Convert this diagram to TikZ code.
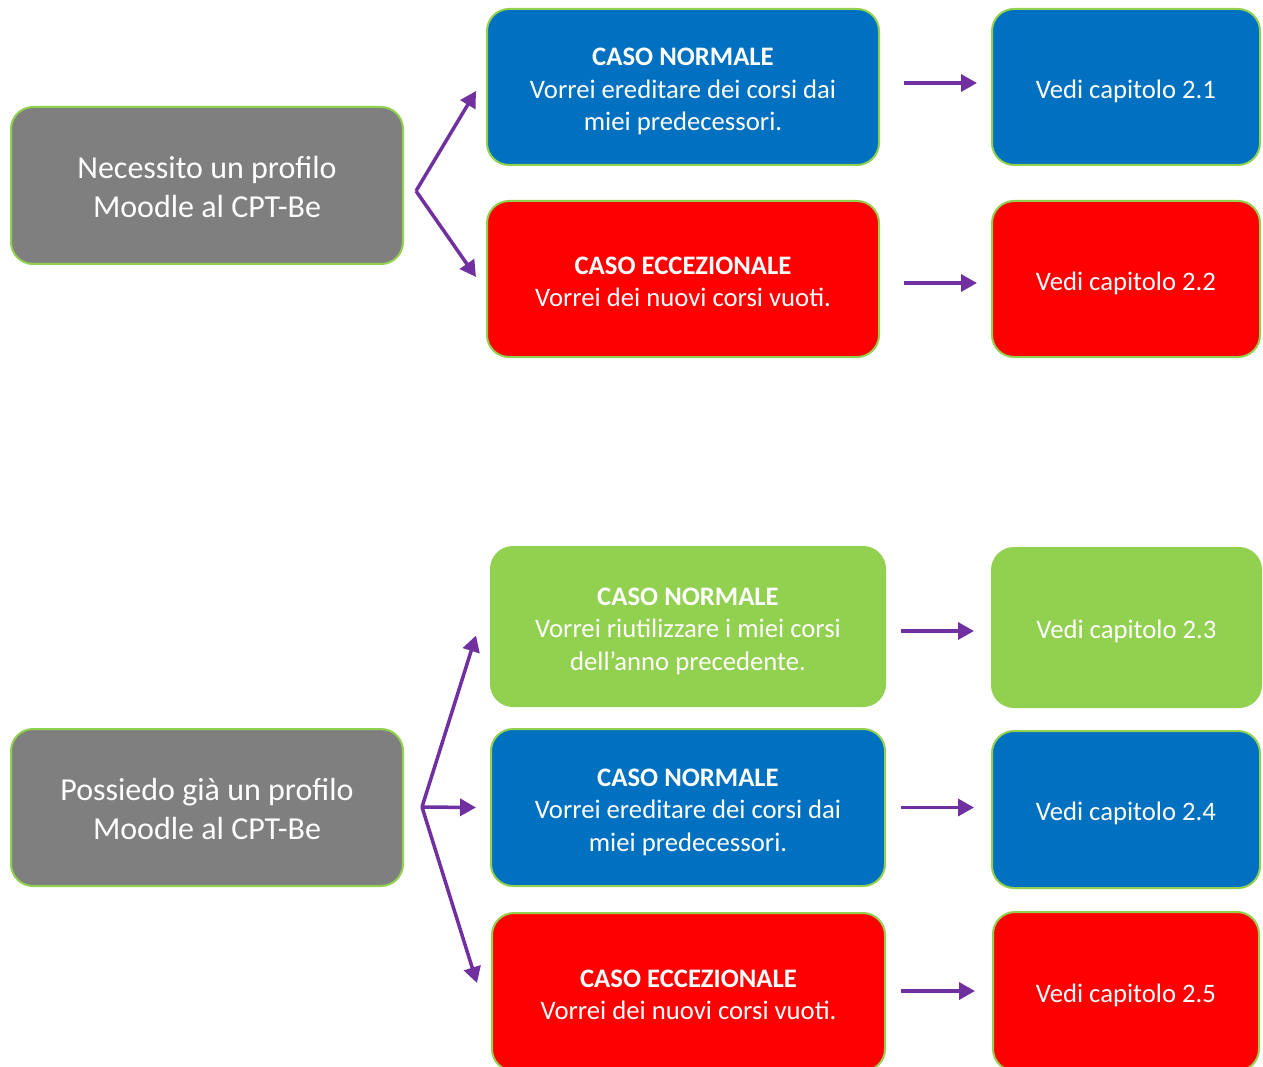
\documentclass[tikz,border=0pt]{standalone}
\usepackage{fontspec}
\setmainfont{Carlito}
\usetikzlibrary{arrows.meta}
\definecolor{bblue}{HTML}{0070C0}
\definecolor{bred}{HTML}{FF0000}
\definecolor{bgreen}{HTML}{92D050}
\definecolor{bgray}{HTML}{7F7F7F}
\definecolor{bpurple}{HTML}{7030A0}
\newcommand\bxt[1]{\raisebox{-4.8pt}[\height][\depth]{\begin{tabular}{@{}c@{}}#1\end{tabular}}}
\tikzset{
  box/.style={rectangle, rounded corners=22pt, draw=bgreen, line width=2pt, text=white, inner sep=0pt, font=\fontsize{26.7}{32.5}\selectfont},
  graybox/.style={box, fill=bgray, minimum width=392pt, minimum height=157pt, font=\fontsize{32}{39}\selectfont},
  arr/.style={draw=bpurple, line width=3.5pt, -{Triangle[length=16pt,width=17pt]}},
}
\begin{document}
\begin{tikzpicture}[x=1pt,y=-1pt]
\useasboundingbox (0,0) rectangle (1263,1067);
% top group
\node[graybox] (g1) at (207,185.5) {\bxt{Necessito un profilo\\Moodle al CPT-Be}};
\node[box, fill=bblue, minimum width=392pt, minimum height=156pt] (b1) at (683,87) {\bxt{\textbf{CASO NORMALE}\\Vorrei ereditare dei corsi dai\\miei predecessori.}};
\node[box, fill=bred, minimum width=392pt, minimum height=156pt] (r1) at (683,279) {\bxt{\textbf{CASO ECCEZIONALE}\\Vorrei dei nuovi corsi vuoti.}};
\node[box, fill=bblue, minimum width=268pt, minimum height=156pt] (v1) at (1126,87) {\bxt{Vedi capitolo 2.1}};
\node[box, fill=bred, minimum width=268pt, minimum height=156pt] (v2) at (1126,279) {\bxt{Vedi capitolo 2.2}};
\coordinate (f1) at (416,191);
\draw[arr] (f1) -- ([xshift=-10pt,yshift=-4pt]b1.west);
\draw[arr] (f1) -- ([xshift=-10pt,yshift=2pt]r1.west);
\draw[arr] ([xshift=24pt,yshift=4pt]b1.east) -- ([xshift=-14pt,yshift=4pt]b1.east -| v1.west);
\draw[arr] ([xshift=24pt,yshift=-4pt]r1.east) -- ([xshift=-14pt,yshift=-4pt]r1.east -| v2.west);
% bottom group
\node[graybox] (g2) at (207,807.5) {\bxt{Possiedo già un profilo\\Moodle al CPT-Be}};
\node[box, fill=bgreen, minimum width=394pt, minimum height=159pt] (gr) at (688,626.5) {\bxt{\textbf{CASO NORMALE}\\Vorrei riutilizzare i miei corsi\\dell’anno precedente.}};
\node[box, fill=bblue, minimum width=394pt, minimum height=157pt] (b2) at (688,807.5) {\bxt{\textbf{CASO NORMALE}\\Vorrei ereditare dei corsi dai\\miei predecessori.}};
\node[box, fill=bred, minimum width=393pt, minimum height=158pt] (r2) at (688.5,992) {\bxt{\textbf{CASO ECCEZIONALE}\\Vorrei dei nuovi corsi vuoti.}};
\node[box, fill=bgreen, minimum width=269pt, minimum height=159pt] (v3) at (1126.5,627.5) {\bxt{Vedi capitolo 2.3}};
\node[box, fill=bblue, minimum width=268pt, minimum height=157pt] (v4) at (1126,809.5) {\bxt{Vedi capitolo 2.4}};
\node[box, fill=bred, minimum width=266pt, minimum height=159pt] (v5) at (1126,991.5) {\bxt{Vedi capitolo 2.5}};
\coordinate (f2) at (422,807);
\draw[arr] (f2) -- ([xshift=-14pt,yshift=-9pt]gr.west);
\draw[arr] (f2) -- ([xshift=-14pt]b2.west);
\draw[arr] (f2) -- ([xshift=-14pt,yshift=9pt]r2.west);
\draw[arr] ([xshift=15pt,yshift=-4.5pt]gr.east) -- ([xshift=-17pt,yshift=-4.5pt]gr.east -| v3.west);
\draw[arr] ([xshift=15pt]b2.east) -- ([xshift=-17pt]b2.east -| v4.west);
\draw[arr] ([xshift=15pt,yshift=1pt]r2.east) -- ([xshift=-17pt,yshift=1pt]r2.east -| v5.west);
\end{tikzpicture}
\end{document}
